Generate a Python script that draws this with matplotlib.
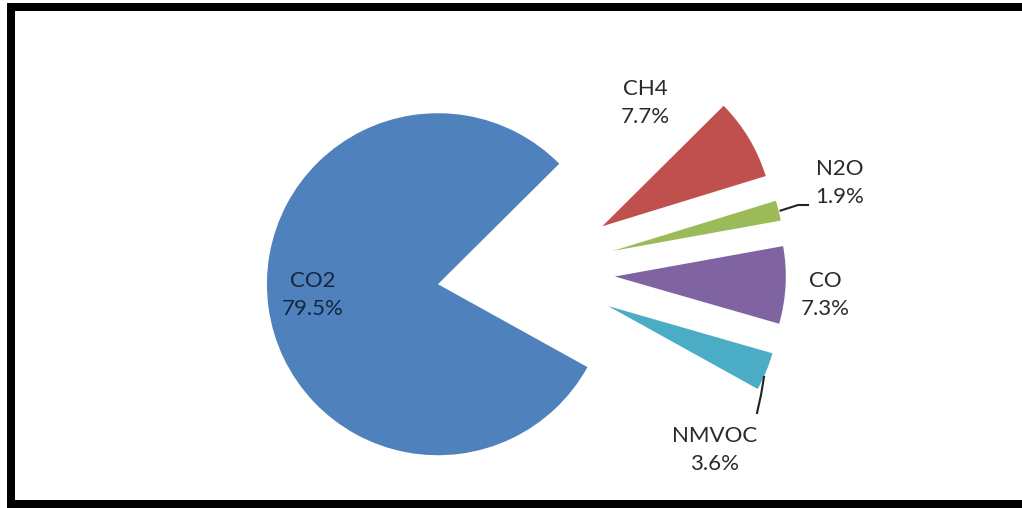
import numpy as np
import matplotlib.pyplot as plt
from matplotlib.patches import Rectangle

gases = ["CO2", "CH4", "N2O", "CO", "NMVOC"]
shares = [79.5, 7.7, 1.9, 7.3, 3.6]
colors = ["#4F81BD", "#C0504D", "#9BBB59", "#8064A2", "#4BACC6"]

# label positions in pixels (x, y from top)
label_pos = [(313, 295), (645, 103), (840, 183), (825, 295), (715, 450)]

W, H = 1022, 508
R = 171
fig = plt.figure(figsize=(W / 100, H / 100), dpi=100)
ax = fig.add_axes([0, 0, 1, 1])

# explode is in data units here, so scale by the radius
wedges, _ = ax.pie(shares, colors=colors, startangle=-29, counterclock=False,
                   explode=[0.52 * R] * len(shares), center=(526, H - 272), radius=R,
                   wedgeprops=dict(linewidth=0))
ax.set_xlim(0, W)
ax.set_ylim(0, H)
ax.set_aspect("equal")
ax.axis("off")

for i, (g, s) in enumerate(zip(gases, shares)):
    x, y = label_pos[i]
    col = "#15263d" if i == 0 else "#2a2a2a"
    ax.text(x, H - y, f"{g}\n{s}%", ha="center", va="center", fontsize=16,
            color=col, linespacing=1.5, family=['Lato', 'DejaVu Sans'])

# leader lines for the thin slices
def outer_mid(w):
    t = np.deg2rad((w.theta1 + w.theta2) / 2)
    cx, cy = w.center
    return cx + w.r * np.cos(t), cy + w.r * np.sin(t)

x0, y0 = outer_mid(wedges[2])
ax.plot([x0 + 2, 798, 808], [y0, H - 205, H - 205], color="#222222", lw=1.5)
ax.plot([764, 761, 757], [H - 377, H - 395, H - 413], color="#222222", lw=1.5)

# black frame (left, top, bottom)
ax.add_patch(Rectangle((7, 0), 8, H - 3, color="black", lw=0))
ax.add_patch(Rectangle((7, H - 11), W - 7, 8, color="black", lw=0))
ax.add_patch(Rectangle((7, 0), W - 7, 8, color="black", lw=0))

fig.savefig("out.png", dpi=100)
